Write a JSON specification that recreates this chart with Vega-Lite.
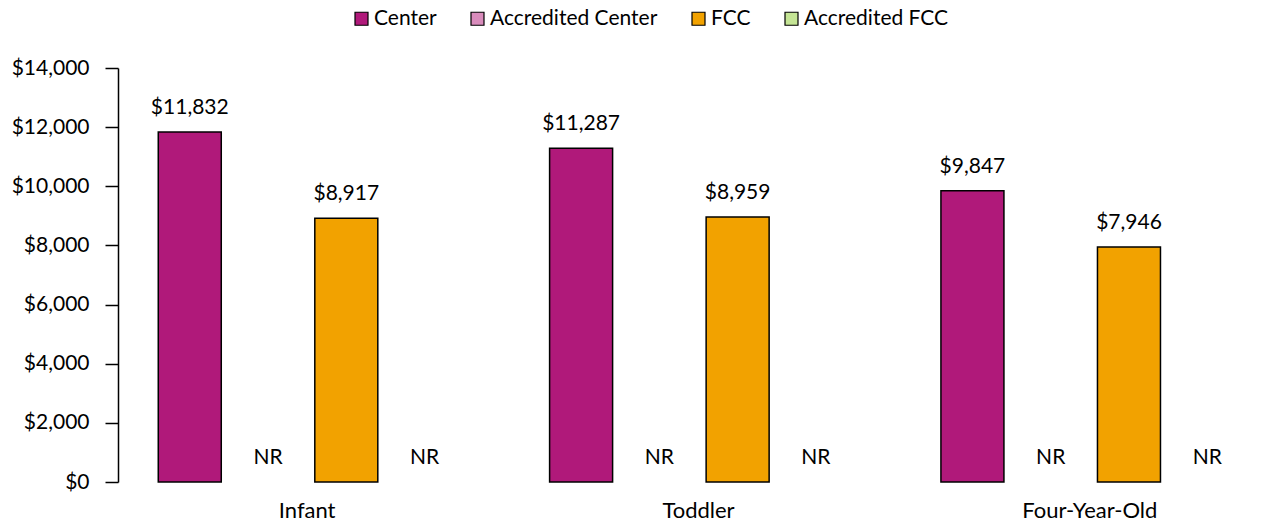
{
  "$schema": "https://vega.github.io/schema/vega-lite/v6.json",
  "autosize": {"type": "none"},
  "width": 1165,
  "height": 414,
  "padding": {"left": 118, "top": 68, "right": 0, "bottom": 45},
  "background": "white",
  "config": {
    "font": "Lato",
    "view": {"stroke": null},
    "axis": {"labelFont": "Lato", "labelFontSize": 21, "labelColor": "#000000"}
  },
  "data": {
    "values": [
      {"age": "Infant", "series": "Center", "value": 11832, "label": "$11,832"},
      {"age": "Infant", "series": "Accredited Center", "value": null, "label": "NR"},
      {"age": "Infant", "series": "FCC", "value": 8917, "label": "$8,917"},
      {"age": "Infant", "series": "Accredited FCC", "value": null, "label": "NR"},
      {"age": "Toddler", "series": "Center", "value": 11287, "label": "$11,287"},
      {"age": "Toddler", "series": "Accredited Center", "value": null, "label": "NR"},
      {"age": "Toddler", "series": "FCC", "value": 8959, "label": "$8,959"},
      {"age": "Toddler", "series": "Accredited FCC", "value": null, "label": "NR"},
      {"age": "Four-Year-Old", "series": "Center", "value": 9847, "label": "$9,847"},
      {"age": "Four-Year-Old", "series": "Accredited Center", "value": null, "label": "NR"},
      {"age": "Four-Year-Old", "series": "FCC", "value": 7946, "label": "$7,946"},
      {"age": "Four-Year-Old", "series": "Accredited FCC", "value": null, "label": "NR"}
    ]
  },
  "encoding": {
    "x": {
      "field": "age", "type": "nominal", "sort": ["Infant", "Toddler", "Four-Year-Old"],
      "scale": {"range": [-6.5, 1167.5], "paddingInner": 0, "paddingOuter": 0},
      "axis": {"title": null, "labelAngle": 0, "domain": false, "ticks": false, "labelPadding": 18, "labelFontSize": 22}
    },
    "xOffset": {
      "field": "series", "type": "nominal",
      "sort": ["Center", "Accredited Center", "FCC", "Accredited FCC"],
      "scale": {"paddingInner": 0.195, "paddingOuter": 0.5975}
    }
  },
  "layer": [
    {
      "mark": {"type": "bar", "stroke": "#000000", "strokeWidth": 1.5},
      "encoding": {
        "y": {
          "field": "value", "type": "quantitative",
          "scale": {"domain": [0, 14000], "nice": false},
          "axis": {
            "title": null, "values": [0, 2000, 4000, 6000, 8000, 10000, 12000, 14000],
            "format": "$,d", "grid": false, "domainColor": "#000000", "domainWidth": 1.5,
            "tickColor": "#000000", "tickWidth": 1.5, "tickSize": 13, "labelPadding": 16
          }
        },
        "color": {
          "field": "series", "type": "nominal",
          "sort": ["Center", "Accredited Center", "FCC", "Accredited FCC"],
          "scale": {
            "domain": ["Center", "Accredited Center", "FCC", "Accredited FCC"],
            "range": ["#B0197A", "#D98CBC", "#F2A200", "#C5E595"]
          },
          "legend": {
            "title": null, "orient": "none", "direction": "horizontal",
            "legendX": 233, "legendY": -60,
            "symbolType": "square", "symbolSize": 169, "symbolStrokeColor": "#000000",
            "symbolStrokeWidth": 1.2, "symbolOpacity": 1,
            "labelFont": "Lato", "labelFontSize": 21, "labelColor": "#000000",
            "labelOffset": 2, "columnPadding": 30, "labelLimit": 400,
            "encode": {
              "symbols": {
                "update": {
                  "stroke": {"value": "#000000"},
                  "strokeWidth": {"value": 1.2}
                }
              }
            }
          }
        }
      }
    },
    {
      "mark": {"type": "rule", "color": "#7F7F7F", "strokeWidth": 1.5},
      "encoding": {"y": {"datum": 0}}
    },
    {
      "transform": [{"filter": "datum.value != null"}],
      "mark": {"type": "text", "baseline": "alphabetic", "dy": -18, "fontSize": 21, "font": "Lato", "color": "#000000"},
      "encoding": {
        "y": {"field": "value", "type": "quantitative"},
        "text": {"field": "label"}
      }
    },
    {
      "transform": [{"filter": "datum.value == null"}],
      "mark": {"type": "text", "baseline": "alphabetic", "dy": -18, "fontSize": 21, "font": "Lato", "color": "#000000"},
      "encoding": {
        "y": {"datum": 0},
        "text": {"field": "label"}
      }
    }
  ]
}
